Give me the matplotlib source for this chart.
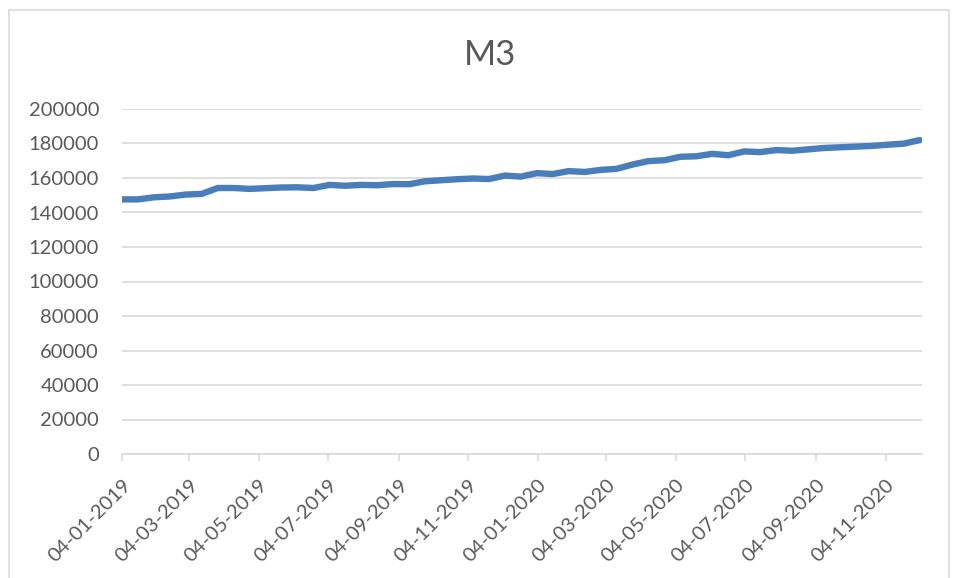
import matplotlib
matplotlib.use('Agg')
import matplotlib.pyplot as plt
import matplotlib.dates as mdates
import matplotlib.patches as patches
import pandas as pd

dates = ['04-01-2019', '18-01-2019', '01-02-2019', '15-02-2019', '01-03-2019',
         '15-03-2019', '29-03-2019', '12-04-2019', '26-04-2019', '10-05-2019',
         '24-05-2019', '07-06-2019', '21-06-2019', '05-07-2019', '19-07-2019',
         '02-08-2019', '16-08-2019', '30-08-2019', '13-09-2019', '27-09-2019',
         '11-10-2019', '25-10-2019', '08-11-2019', '22-11-2019', '06-12-2019',
         '20-12-2019', '03-01-2020', '17-01-2020', '31-01-2020', '14-02-2020',
         '28-02-2020', '13-03-2020', '27-03-2020', '10-04-2020', '24-04-2020',
         '08-05-2020', '22-05-2020', '05-06-2020', '19-06-2020', '03-07-2020',
         '17-07-2020', '31-07-2020', '14-08-2020', '28-08-2020', '11-09-2020',
         '25-09-2020', '09-10-2020', '23-10-2020', '06-11-2020', '20-11-2020',
         '04-12-2020']
m3 = [147600, 147600, 148800, 149300, 150400, 150800, 154200, 154200, 153700,
      154100, 154500, 154600, 154200, 156000, 155500, 156000, 155800, 156500,
      156400, 158100, 158700, 159300, 159700, 159400, 161400, 160800, 162800,
      162300, 164000, 163500, 164700, 165300, 167800, 169800, 170300, 172300,
      172600, 174000, 173200, 175400, 175000, 176200, 175800, 176600, 177400,
      177800, 178200, 178600, 179300, 179900, 182000]

x = pd.to_datetime(dates, format='%d-%m-%Y')
grey = '#595959'

fig = plt.figure(figsize=(9.57, 5.78), dpi=100)
ax = fig.add_axes([122 / 957, 1 - 454 / 578, 800 / 957, 345 / 578])

ax.plot(x, m3, color='#4a7ebb', linewidth=4.6, solid_joinstyle='round',
        solid_capstyle='round', zorder=3)

ax.set_ylim(0, 200000)
ax.set_yticks(range(0, 200001, 20000))
ax.set_xlim(x[0], x[-1] + pd.Timedelta(days=2))
ax.xaxis.set_major_locator(mdates.MonthLocator(bymonth=[1, 3, 5, 7, 9, 11], bymonthday=4))
ax.xaxis.set_major_formatter(mdates.DateFormatter('%d-%m-%Y'))

ax.grid(axis='y', color='#d9d9d9', linewidth=1.2)
ax.set_axisbelow(True)
for s in ['top', 'right', 'left']:
    ax.spines[s].set_visible(False)
ax.spines['bottom'].set_color('#d9d9d9')
ax.spines['bottom'].set_linewidth(1.2)

ax.tick_params(axis='y', length=0, pad=16.5, labelsize=14.5, labelcolor=grey)
ax.tick_params(axis='x', length=5, width=1.2, color='#d9d9d9', pad=11,
               labelsize=14.5, labelcolor=grey)
for lab in ax.get_yticklabels() + ax.get_xticklabels():
    lab.set_fontfamily('Lato')
for lab in ax.get_xticklabels():
    lab.set_rotation(45)
    lab.set_ha('right')
    lab.set_rotation_mode('anchor')

fig.text(490 / 957, 1 - 55 / 578, 'M3', ha='center', va='center',
         fontsize=25, color=grey, family='Lato')

# chart area border
fig.patches.append(patches.Rectangle((9 / 957, -0.01), 940 / 957, 1 - 10 / 578 + 0.01,
                                     transform=fig.transFigure, fill=False,
                                     edgecolor='#d9d9d9', linewidth=1.2))

fig.savefig('out.png', dpi=100)
